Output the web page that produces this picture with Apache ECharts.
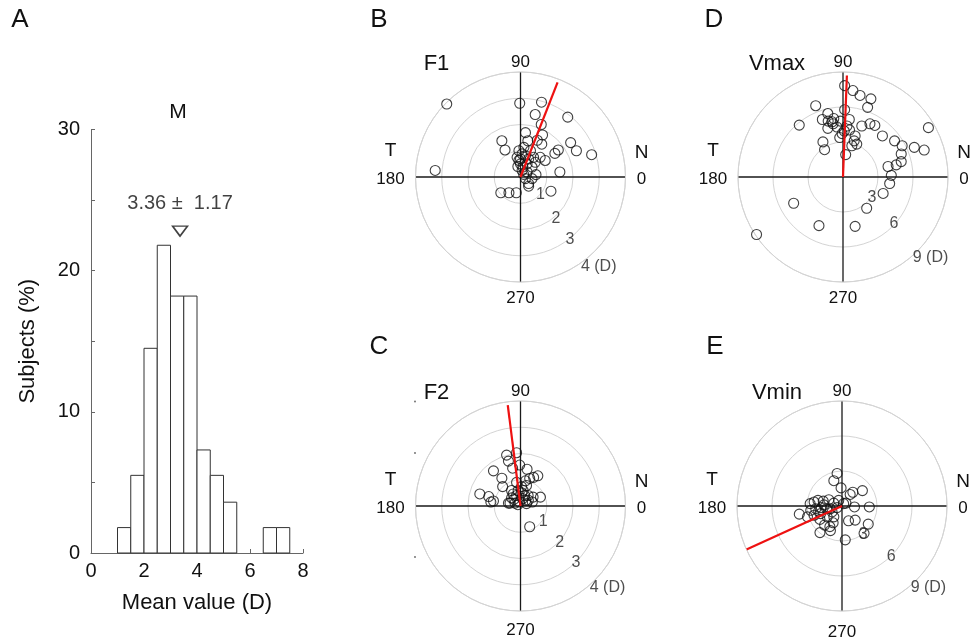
<!DOCTYPE html>
<html><head><meta charset="utf-8">
<script src="https://cdn.jsdelivr.net/npm/echarts@6/dist/echarts.min.js"></script>
<style>html,body{margin:0;padding:0;background:#fff}#c{width:972px;height:643px}</style>
</head><body><div id="c"></div>
<script>
// ---------- DATA ----------
// Panel A histogram (bin starts in D, bin width 0.5 D, percent of subjects)
const histBinStarts = [1.0,1.5,2.0,2.5,3.0,3.5,4.0,4.5,5.0,5.5,6.0,6.5,7.0];
const histPercent   = [1.8,5.5,14.5,21.8,18.2,18.2,7.3,5.5,3.6,0,0,1.8,1.8];
const histMean = 3.36, histSD = 1.17, histMarkerY = 22.8;
const xTicks = [0,2,4,6,8];
const yTicks = [0,10,20,30];

// Polar panels: points as horizontal (N +) and vertical (90 +) components, in D
const f1X = [-2.81,-0.03,0.80,0.56,1.80,0.79,0.19,0.84,-0.71,0.28,0.64,0.81,1.91,-0.59,2.13,1.44,1.31,2.71,-3.25,0.94,1.50,0.59,0.31,0.31,-0.75,-0.44,-0.16,1.16,-0.06,0.06,0.00,0.19,0.38,0.50,0.75,0.00,0.25,0.44,0.09,0.25,0.19,0.44,-0.13,0.13,-0.06,0.06,0.31,0.56,-0.10,0.12];
const f1Y = [2.78,2.81,2.85,2.38,2.28,2.00,1.69,1.60,1.38,1.38,1.40,1.25,1.31,1.03,1.00,1.03,0.90,0.85,0.25,0.63,0.19,0.09,-0.25,-0.35,-0.60,-0.60,-0.60,-0.54,1.00,0.88,0.69,0.81,1.00,0.75,0.75,0.50,0.50,0.38,0.38,0.19,-0.06,-0.06,0.75,1.13,0.63,0.25,0.69,0.56,0.40,0.10];
const f2X = [-0.53,-0.15,-0.46,-0.30,-0.03,-1.03,-0.71,0.25,-0.68,0.66,0.50,0.35,0.19,-0.15,0.23,0.04,-1.55,-1.21,-1.03,-1.13,0.76,-0.34,-0.15,-0.34,-0.40,-0.21,0.16,0.20,0.45,0.35,-0.09,0.10,0.29,-0.03,-0.28,0.23,0.48,-0.46,0.08,-0.25,0.05,0.30,-0.10];
const f2Y = [1.94,2.03,1.71,1.44,1.56,1.34,1.06,1.40,0.74,1.15,1.09,1.05,0.96,0.90,0.78,0.74,0.46,0.36,0.19,0.15,0.34,0.59,0.40,0.31,0.11,0.11,0.40,0.21,0.15,-0.79,0.59,0.59,0.40,0.15,0.46,0.09,0.34,0.11,0.28,0.25,0.50,0.22,0.05];
const vmaxX = [0.14,0.85,1.46,2.39,2.11,-2.34,0.14,-1.30,-1.77,-1.27,-0.79,-0.85,-1.30,-0.23,0.54,-3.75,-0.51,0.11,0.56,1.61,2.31,2.73,7.32,-0.28,1.04,3.38,-1.72,-1.58,0.76,1.18,0.23,4.42,5.07,6.11,6.96,4.99,4.99,4.56,3.86,4.14,4.00,3.44,2.03,-4.23,-2.06,1.04,-7.41,-0.08,-0.93,0.34,0.96];
const vmaxY = [7.83,7.41,6.99,6.70,5.97,6.11,5.77,5.44,4.93,4.79,5.01,4.56,4.17,4.79,4.93,4.45,4.28,3.94,4.03,4.37,4.56,4.42,4.23,3.38,3.52,3.52,3.01,2.34,2.68,2.82,1.92,3.10,2.68,2.54,2.31,1.97,1.32,1.04,0.90,0.14,-0.56,-1.41,-2.68,-2.25,-4.17,-4.23,-4.93,3.72,4.73,4.37,3.10];
const vminX = [-0.42,-0.70,-0.08,0.93,1.75,0.70,0.34,1.07,2.34,-3.66,-2.96,0.56,1.13,2.25,1.89,0.28,-1.89,-0.99,-2.73,-2.39,-2.06,-1.61,-1.13,-0.70,-0.28,0.14,-2.25,-1.77,-1.32,-0.85,-2.39,-1.89,-1.49,-1.04,-0.76,-0.70,-1.27,-2.68,-0.42,-1.83,-1.55,-2.0,-1.0];
const vminY = [2.79,2.17,1.55,1.18,1.32,0.99,0.25,-0.08,-0.08,-0.70,-0.93,-1.27,-1.21,-1.55,-2.34,-2.90,-2.28,-2.11,0.20,0.34,0.48,0.42,0.54,0.25,0.48,0.20,-0.23,-0.14,-0.23,-0.51,-0.79,-1.15,-1.63,-1.77,-1.44,-0.93,-0.93,-0.37,-0.14,-0.65,0.10,-0.45,-0.25];
// mean axis (red line): angle in degrees, length in D
const f1Mean = [68.6, 3.87];
const f2Mean = [97.2, 3.87];
const vmaxMean = [87.8, 8.7];
const vminMean = [204.5, 9.0];
const ringsF = [1,2,3,4];
const ringsV = [3,6,9];

// ---------- BUILD ----------
const FONT = "'Liberation Sans', Arial, Helvetica, sans-serif";
const chart = echarts.init(document.getElementById('c'), null, {renderer:'canvas'});

function toPolar(xs, ys){ return xs.map((x,i)=>[Math.hypot(x, ys[i]), (Math.atan2(ys[i], x)*180/Math.PI + 360) % 360]); }

// rl: ring label placement [radius, angle]; the outermost one is placed on the outer ring and shifted
const panels = [
  {title:'F1', c:[520.5,177], max:4, step:1, xs:f1X, ys:f1Y, mean:f1Mean, rings:ringsF, tdx:-84, bdy:121,
   rl:[[1.02,318.4],[2.09,310.4],[3.03,308.4],[4,310.5]]},
  {title:'Vmax', c:[843,177], max:9, step:3, xs:vmaxX, ys:vmaxY, mean:vmaxMean, rings:ringsV, tdx:-66, bdy:121,
   rl:[[3.02,325],[5.91,317.5],[9,317.6]]},
  {title:'F2', c:[520.5,506], max:4, step:1, xs:f2X, ys:f2Y, mean:f2Mean, rings:ringsF, tdx:-84, bdy:124,
   rl:[[1.05,325],[2.04,317],[3.03,314.2],[4,317.2]]},
  {title:'Vmin', c:[842,506], max:9, step:3, xs:vminX, ys:vminY, mean:vminMean, rings:ringsV, tdx:-65, bdy:126,
   rl:[[3.02,307],[6.08,314],[9,316.7]]}
];
const R = 105;

const polar = [], angleAxis = [], radiusAxis = [], series = [], graphic = [];

function txt(x, y, text, size, align){
  graphic.push({type:'text', x:x, y:y, silent:true, z:100,
    style:{text:text, fill:'#111', font: size+'px '+FONT, textAlign: align||'center', textVerticalAlign:'middle', align: align||'center', verticalAlign:'middle'}});
}

panels.forEach((p,i)=>{
  polar.push({center:p.c, radius:R});
  angleAxis.push({polarIndex:i, type:'value', min:0, max:360, interval:90, startAngle:0, clockwise:false,
    axisLine:{show:true, lineStyle:{color:'#d4d4d4', width:1}}, axisTick:{show:false}, axisLabel:{show:false},
    splitLine:{show:true, lineStyle:{color:'#1a1a1a', width:1.3}}});
  radiusAxis.push({polarIndex:i, type:'value', min:0, max:p.max, interval:p.step,
    axisLine:{show:false}, axisTick:{show:false}, axisLabel:{show:false},
    splitLine:{show:true, lineStyle:{color:'#d4d4d4', width:1}}});
  series.push({type:'scatter', coordinateSystem:'polar', polarIndex:i, data:toPolar(p.xs,p.ys),
    symbol:'circle', symbolSize:10, z:3, silent:true,
    itemStyle:{color:'rgba(255,255,255,0)', borderColor:'#111', borderWidth:1.1}});
  series.push({type:'line', coordinateSystem:'polar', polarIndex:i, data:[[0,p.mean[0]],[p.mean[1],p.mean[0]]],
    symbol:'none', z:5, silent:true, lineStyle:{color:'#ee1111', width:2.2}});
  const last = p.rings.length-1;
  series.push({type:'scatter', coordinateSystem:'polar', polarIndex:i, symbolSize:0, z:6, silent:true,
    data: p.rl.map((pos,k)=>({value:[pos[0],pos[1]], name: k===last ? p.rings[k]+' (D)' : String(p.rings[k]),
      label: k===last ? {offset:[10,10]} : {}})),
    label:{show:true, position:'inside', formatter:'{b}', color:'#222', fontSize:16, fontFamily:FONT}});
  const cx=p.c[0], cy=p.c[1];
  txt(cx, cy-115, '90', 17);
  txt(cx, cy+p.bdy, '270', 17);
  txt(cx-130, cy-26, 'T', 19);
  txt(cx-130, cy+2, '180', 17);
  txt(cx+121, cy-24, 'N', 19);
  txt(cx+121, cy+2, '0', 17);
  txt(cx+p.tdx, cy-113, p.title, 22);
});

// small stray tick dots at the left of panel C
[[415,401.5],[415,453],[415,557]].forEach(d=>graphic.push({type:'circle', silent:true, shape:{cx:d[0], cy:d[1], r:0.9}, style:{fill:'#666'}}));

// panel letters & titles
txt(20,20,'A',26); txt(379,20,'B',26); txt(714,20,'D',26); txt(379,347,'C',26); txt(715,347,'E',26);
txt(178,112,'M',21);

const histData = histBinStarts.map((s,i)=>[s, s+0.5, histPercent[i]]).filter(d=>d[2]>0);

series.push({type:'custom', xAxisIndex:0, yAxisIndex:0, data:histData, encode:{x:[0,1], y:2}, z:2, silent:true,
  renderItem:function(params, api){
    const p0 = api.coord([api.value(0), api.value(2)]);
    const p1 = api.coord([api.value(1), 0]);
    return {type:'rect', shape:{x:p0[0], y:p0[1], width:p1[0]-p0[0], height:p1[1]-p0[1]},
      style:{fill:'#fff', stroke:'#333', lineWidth:1}};
  }});
series.push({type:'scatter', xAxisIndex:0, yAxisIndex:0, data:[[histMean, histMarkerY]], z:4, silent:true,
  symbol:'triangle', symbolRotate:180, symbolSize:[15,10],
  itemStyle:{color:'#fff', borderColor:'#111', borderWidth:1.5},
  label:{show:true, position:'top', distance:12, formatter: histMean.toFixed(2)+' \u00b1  '+histSD.toFixed(2), color:'#111', fontSize:20, fontFamily:FONT}});

const option = {
  animation:false,
  backgroundColor:'#fff',
  textStyle:{fontFamily:FONT},
  grid:[{left:91, top:129.5, width:212, height:423.5, containLabel:false}],
  xAxis:[{type:'value', min:0, max:8, interval:2, gridIndex:0,
    axisLine:{show:true, lineStyle:{color:'#666', width:1}},
    axisTick:{show:true, inside:true, length:4, lineStyle:{color:'#666'}},
    axisLabel:{show:true, margin:8, color:'#111', fontSize:20, fontFamily:FONT, formatter:v=> xTicks.includes(v)? String(v):''},
    splitLine:{show:false},
    name:'Mean value (D)', nameLocation:'middle', nameGap:39, nameTextStyle:{color:'#111', fontSize:22, fontFamily:FONT}}],
  yAxis:[{type:'value', min:0, max:30, interval:5, gridIndex:0,
    axisLine:{show:true, lineStyle:{color:'#666', width:1}},
    axisTick:{show:true, inside:true, length:4, lineStyle:{color:'#666'}},
    axisLabel:{show:true, margin:11, color:'#111', fontSize:20, fontFamily:FONT, formatter:v=> yTicks.includes(v)? String(v):''},
    splitLine:{show:false},
    name:'Subjects (%)', nameLocation:'middle', nameGap:52, nameRotate:90, nameTextStyle:{color:'#111', fontSize:22, fontFamily:FONT}}],
  polar:polar, angleAxis:angleAxis, radiusAxis:radiusAxis,
  series:series,
  graphic:graphic
};
chart.setOption(option);
</script></body></html>
